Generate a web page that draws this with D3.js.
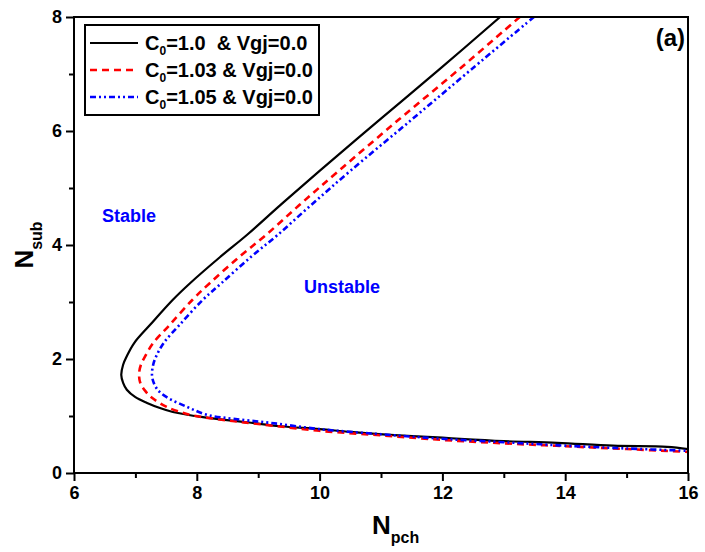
<!DOCTYPE html>
<html>
<head>
<meta charset="utf-8">
<script src="https://cdn.jsdelivr.net/npm/d3@7"></script>
<style>
  html, body { margin: 0; padding: 0; background: #fff; }
  svg { display: block; font-family: "Liberation Sans", Arial, sans-serif; font-weight: bold; }
</style>
</head>
<body>
<svg id="chart" width="705" height="552"></svg>
<script>
// Stability boundaries in the (Npch, Nsub) plane for three distribution parameters C0
const seriesNames = ["1.0 ", "1.03", "1.05"];

const npchC100 = [12.94, 11.95, 10.98, 10.0, 9.36, 8.82, 8.38, 7.89, 7.61, 7.24, 6.98, 6.86, 6.80, 6.77,
  6.80, 6.86, 7.0, 7.19, 7.4, 7.61, 8.1, 8.82, 9.36, 10.0, 10.5, 11.15, 12.0, 12.29, 13.0, 13.87, 14.78, 15.66, 16.0];
const nsubC100 = [8.0, 7.08, 6.2, 5.3, 4.7, 4.18, 3.79, 3.33, 3.04, 2.6, 2.28, 2.05, 1.9, 1.72,
  1.58, 1.46, 1.33, 1.23, 1.14, 1.07, 0.98, 0.89, 0.82, 0.77, 0.72, 0.67, 0.62, 0.6, 0.56, 0.53, 0.48, 0.46, 0.42];

const npchC103 = [13.26, 12.27, 11.29, 10.31, 9.67, 9.13, 8.69, 8.21, 7.93, 7.56, 7.29, 7.16, 7.09, 7.06,
  7.08, 7.16, 7.27, 7.51, 7.89, 8.3, 9.0, 10.0, 11.0, 12.0, 13.0, 14.0, 15.0, 16.0];
const nsubC103 = [8.0, 7.08, 6.2, 5.3, 4.7, 4.18, 3.79, 3.33, 3.04, 2.6, 2.28, 2.05, 1.9, 1.74,
  1.58, 1.44, 1.32, 1.16, 1.02, 0.95, 0.86, 0.74, 0.66, 0.58, 0.52, 0.47, 0.42, 0.37];

const npchC105 = [13.49, 12.47, 11.5, 10.5, 9.86, 9.32, 8.88, 8.4, 8.1, 7.72, 7.46, 7.34, 7.29, 7.27,
  7.3, 7.37, 7.51, 7.84, 8.17, 8.6, 9.2, 10.0, 11.0, 12.0, 13.0, 14.0, 15.0, 16.0];
const nsubC105 = [8.0, 7.08, 6.2, 5.3, 4.7, 4.18, 3.79, 3.33, 3.04, 2.6, 2.28, 2.05, 1.9, 1.72,
  1.58, 1.45, 1.33, 1.16, 1.02, 0.95, 0.88, 0.77, 0.68, 0.6, 0.54, 0.48, 0.43, 0.39];

const xTicks = [6, 8, 10, 12, 14, 16];
const yTicks = [0, 2, 4, 6, 8];

const svg = d3.select("#chart");
const plotLeft = 74, plotRight = 688, plotTop = 17, plotBottom = 473;

const x = d3.scaleLinear().domain([6, 16]).range([plotLeft, plotRight]);
const y = d3.scaleLinear().domain([0, 8]).range([plotBottom, plotTop]);

const zip = (xs, ys) => xs.map((v, i) => [v, ys[i]]);
const series = [
  { name: seriesNames[0], pts: zip(npchC100, nsubC100), color: "#000000", dash: null, width: 2.2 },
  { name: seriesNames[1], pts: zip(npchC103, nsubC103), color: "#ff0000", dash: "7,5", width: 2.6 },
  { name: seriesNames[2], pts: zip(npchC105, nsubC105), color: "#0000ff", dash: "6,3,2,3,2,3", width: 2.6 }
];

const line = d3.line().curve(d3.curveCatmullRom.alpha(0.5)).x(d => x(d[0])).y(d => y(d[1]));

svg.append("defs").append("clipPath").attr("id", "plotclip")
  .append("rect").attr("x", plotLeft).attr("y", plotTop)
  .attr("width", plotRight - plotLeft).attr("height", plotBottom - plotTop);

const g = svg.append("g").attr("clip-path", "url(#plotclip)");
series.forEach(s => {
  g.append("path").datum(s.pts)
    .attr("d", line)
    .attr("fill", "none")
    .attr("stroke", s.color)
    .attr("stroke-width", s.width)
    .attr("stroke-dasharray", s.dash)
    .attr("stroke-linejoin", "round");
});

// Axes: outward major and minor ticks
const xAxis = d3.axisBottom(x).tickValues(xTicks).tickSize(8).tickPadding(5).tickFormat(d3.format("d"));
const yAxis = d3.axisLeft(y).tickValues(yTicks).tickSize(8).tickPadding(4).tickFormat(d3.format("d"));
const xMinor = d3.axisBottom(x).tickValues(d3.range(7, 16, 2)).tickSize(5).tickFormat("");
const yMinor = d3.axisLeft(y).tickValues(d3.range(1, 8, 2)).tickSize(5).tickFormat("");

function styleAxis(sel) {
  sel.select(".domain").remove();
  sel.selectAll("line").attr("stroke", "#000").attr("stroke-width", 2);
  sel.selectAll("text").attr("font-size", 18).attr("font-weight", "bold")
    .attr("font-family", "'Liberation Sans', Arial, sans-serif").attr("fill", "#000");
}
svg.append("g").attr("transform", `translate(0,${plotBottom})`).call(xAxis).call(styleAxis);
svg.append("g").attr("transform", `translate(0,${plotBottom})`).call(xMinor).call(styleAxis);
svg.append("g").attr("transform", `translate(${plotLeft},0)`).call(yAxis).call(styleAxis);
svg.append("g").attr("transform", `translate(${plotLeft},0)`).call(yMinor).call(styleAxis);

// Frame
svg.append("rect").attr("x", plotLeft).attr("y", plotTop)
  .attr("width", plotRight - plotLeft).attr("height", plotBottom - plotTop)
  .attr("fill", "none").attr("stroke", "#000").attr("stroke-width", 2);

// Axis titles
const xt = svg.append("text").attr("x", 372).attr("y", 534).attr("font-size", 26).attr("fill", "#000");
xt.append("tspan").text("N");
xt.append("tspan").attr("font-size", 16).attr("dy", 9).text("pch");

const yt = svg.append("text").attr("transform", "translate(33,245) rotate(-90)")
  .attr("text-anchor", "middle").attr("font-size", 26).attr("fill", "#000");
yt.append("tspan").text("N");
yt.append("tspan").attr("font-size", 16).attr("dy", 9).text("sub");

// Region labels
svg.append("text").attr("x", 102).attr("y", 222).attr("font-size", 18).attr("fill", "#0000ff").text("Stable");
svg.append("text").attr("x", 304).attr("y", 293).attr("font-size", 18).attr("fill", "#0000ff").text("Unstable");

// Panel tag
svg.append("text").attr("x", 685).attr("y", 46).attr("text-anchor", "end").attr("font-size", 24)
  .attr("fill", "#000").text("(a)");

// Legend
const lg = svg.append("g");
lg.append("rect").attr("x", 85).attr("y", 25).attr("width", 234).attr("height", 90)
  .attr("fill", "#fff").attr("stroke", "#000").attr("stroke-width", 2);
series.forEach((s, i) => {
  const ly = 43 + i * 27;
  lg.append("line").attr("x1", 90).attr("x2", 138).attr("y1", ly).attr("y2", ly)
    .attr("stroke", s.color).attr("stroke-width", i === 0 ? 2 : 2.4).attr("stroke-dasharray", s.dash);
  const t = lg.append("text").attr("x", 145).attr("y", ly + 7).attr("font-size", 20).attr("fill", "#000")
    .attr("xml:space", "preserve");
  t.append("tspan").text("C");
  t.append("tspan").attr("font-size", 12).attr("dy", 5).text("0");
  t.append("tspan").attr("dy", -5).text("=" + s.name + " & Vgj=0.0");
});
</script>
</body>
</html>
